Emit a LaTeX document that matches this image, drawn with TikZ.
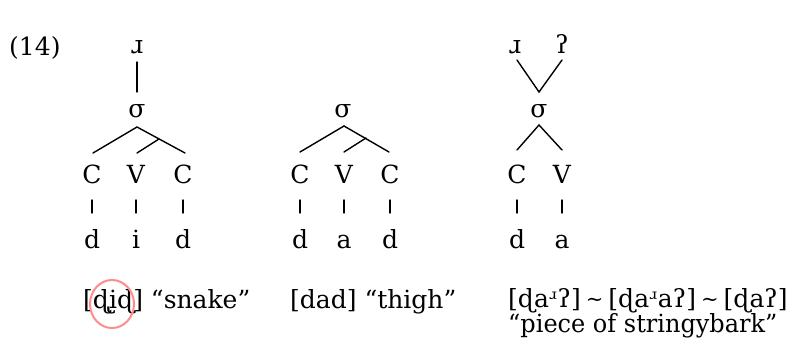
\documentclass[tikz,border=0pt]{standalone}
\usepackage{fontspec}
\setmainfont{DejaVu Serif}
\newcommand{\smalltilde}{\hspace{5pt}{\fontsize{21}{21}\selectfont\raisebox{1pt}{\~{}}}\hspace{5pt}}
\begin{document}
\begin{tikzpicture}[x=1pt,y=-1pt,
  lab/.style={inner sep=0pt, anchor=base, font=\fontsize{25}{30}\selectfont},
  txt/.style={inner sep=0pt, anchor=base west, font=\fontsize{25}{30}\selectfont},
  edge/.style={line width=1.4pt, line cap=round},
  redring/.style={draw=red!45, line width=2pt}]
\useasboundingbox (0,0) rectangle (791,345);
\node[txt] (ex) at (9,56) {(14)};
% tree 1
\node[lab] (r1) at (137,53) {ɹ};
\node[lab] (s1) at (137,117) {σ};
\node[lab] (c1a) at (92,183) {C};
\node[lab] (v1) at (136,183) {V};
\node[lab] (c1b) at (183,183) {C};
\node[lab] (d1a) at (92,248) {d};
\node[lab] (i1) at (136,248) {i};
\node[lab] (d1b) at (183,248) {d};
\coordinate (r1b) at (137,62); \coordinate (s1t) at (137,92);
\coordinate (s1a) at (137,127);
\coordinate (c1at) at (93,153); \coordinate (c1bt) at (185,153);
\coordinate (v1t) at (137,153); \coordinate (v1j) at (159,139);
\draw[edge] (r1b) -- (s1t);
\draw[edge] (c1at) -- (s1a) -- (c1bt);
\draw[edge] (v1t) -- (v1j);
\foreach \x/\n in {92/a,136/b,183/c}{\draw[edge] (\x,200) coordinate (t1\n) -- (\x,213) coordinate (b1\n);}
\node[txt] (g1) at (83,308) {[ɖi̢ɖ] “snake”};
\draw[redring] (112,304) ellipse (22 and 24);
% tree 2
\node[lab] (s2) at (343,117) {σ};
\node[lab] (c2a) at (300,183) {C};
\node[lab] (v2) at (344,183) {V};
\node[lab] (c2b) at (390,183) {C};
\node[lab] (d2a) at (300,248) {d};
\node[lab] (a2) at (344,248) {a};
\node[lab] (d2b) at (390,248) {d};
\coordinate (s2a) at (344,126);
\coordinate (c2at) at (300,152); \coordinate (c2bt) at (389,152);
\coordinate (v2t) at (344,152); \coordinate (v2j) at (366,138);
\draw[edge] (c2at) -- (s2a) -- (c2bt);
\draw[edge] (v2t) -- (v2j);
\foreach \x/\n in {300/a,344/b,390/c}{\draw[edge] (\x,200) coordinate (t2\n) -- (\x,213) coordinate (b2\n);}
\node[txt] (g2) at (290,308) {[dad] “thigh”};
% tree 3
\node[lab] (r3) at (515,53) {ɹ};
\node[lab] (q3) at (562,53) {ʔ};
\node[lab] (s3) at (539,117) {σ};
\node[lab] (c3) at (517,183) {C};
\node[lab] (v3) at (562,183) {V};
\node[lab] (d3) at (517,248) {d};
\node[lab] (a3) at (562,248) {a};
\coordinate (r3b) at (517,60); \coordinate (q3b) at (562,60);
\coordinate (s3t) at (539,92); \coordinate (s3a) at (539,125);
\coordinate (c3t) at (517,150); \coordinate (v3t) at (562,150);
\draw[edge] (r3b) -- (s3t) -- (q3b);
\draw[edge] (c3t) -- (s3a) -- (v3t);
\foreach \x/\n in {517/a,562/b}{\draw[edge] (\x,200) coordinate (t3\n) -- (\x,213) coordinate (b3\n);}
\node[txt] (g3) at (508,307) {[ɖaʴʔ]\smalltilde[ɖaʴaʔ]\smalltilde[ɖaʔ]};
\node[txt] (g3b) at (508,332) {\scalebox{0.96}[1]{“piece of stringybark”}};
\end{tikzpicture}
\end{document}
